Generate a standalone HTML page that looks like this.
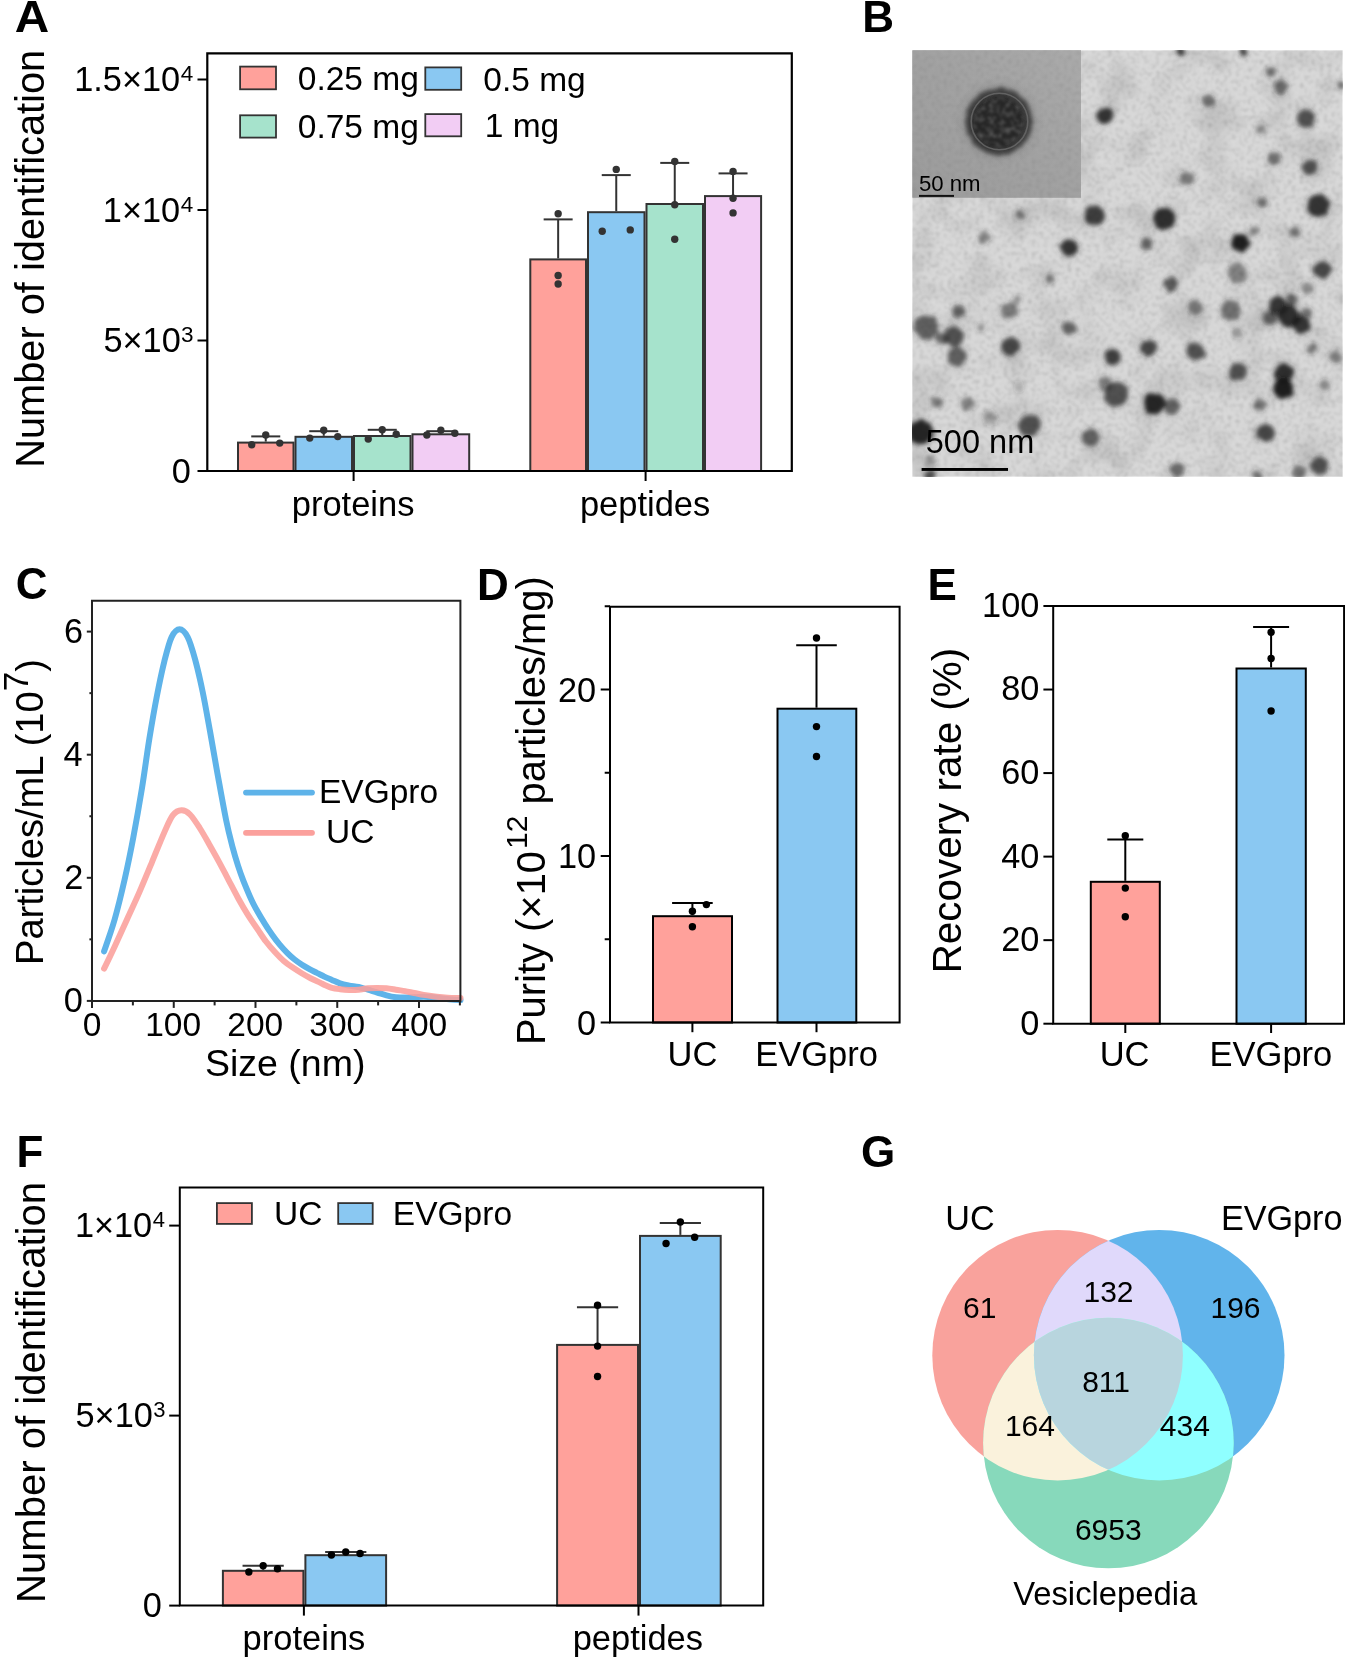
<!DOCTYPE html><html><head><meta charset="utf-8"><style>html,body{margin:0;padding:0;background:#fff;overflow:hidden;}svg{display:block;will-change:transform;}</style></head><body>
<svg width="1345" height="1657" viewBox="0 0 1345 1657" font-family="Liberation Sans, sans-serif" fill="#000">
<defs><filter id="grain" x="0" y="0" width="100%" height="100%"><feTurbulence type="fractalNoise" baseFrequency="0.25" numOctaves="2" seed="3"/><feColorMatrix type="matrix" values="0 0 0 0 0  0 0 0 0 0  0 0 0 0 0  0 0 0 -0.3 0.17"/><feGaussianBlur stdDeviation="0.8"/></filter><filter id="grain2" x="0" y="0" width="100%" height="100%"><feTurbulence type="fractalNoise" baseFrequency="0.03" numOctaves="2" seed="7"/><feColorMatrix type="matrix" values="0 0 0 0 0  0 0 0 0 0  0 0 0 0 0  0 0 0 -0.25 0.14"/></filter><filter id="blobblur" x="-10%" y="-10%" width="120%" height="120%"><feTurbulence type="fractalNoise" baseFrequency="0.12" numOctaves="2" seed="11" result="t"/><feDisplacementMap in="SourceGraphic" in2="t" scale="5" xChannelSelector="R" yChannelSelector="G" result="d"/><feGaussianBlur in="d" stdDeviation="1.9"/></filter><filter id="blobblur3" x="-30%" y="-30%" width="160%" height="160%"><feTurbulence type="fractalNoise" baseFrequency="0.15" numOctaves="2" seed="5" result="t"/><feDisplacementMap in="SourceGraphic" in2="t" scale="4" xChannelSelector="R" yChannelSelector="G" result="d"/><feGaussianBlur in="d" stdDeviation="2.2"/></filter><filter id="blobblur4" x="-20%" y="-20%" width="140%" height="140%"><feGaussianBlur stdDeviation="0.7"/></filter><filter id="coretex" x="-10%" y="-10%" width="120%" height="120%"><feTurbulence type="fractalNoise" baseFrequency="0.18" numOctaves="2" seed="2" result="t"/><feColorMatrix in="t" type="matrix" values="0 0 0 0 0.26  0 0 0 0 0.26  0 0 0 0 0.26  1.1 0 0 0 -0.45" result="c"/><feComposite in="c" in2="SourceGraphic" operator="in" result="m"/><feGaussianBlur in="m" stdDeviation="1"/></filter><linearGradient id="insetgrad" x1="0" y1="1" x2="1" y2="0"><stop offset="0" stop-color="#9c9c9c"/><stop offset="0.5" stop-color="#a2a2a2"/><stop offset="1" stop-color="#ababab"/></linearGradient><radialGradient id="halo"><stop offset="0.55" stop-color="#606060" stop-opacity="0.55"/><stop offset="0.8" stop-color="#808080" stop-opacity="0.2"/><stop offset="1" stop-color="#909090" stop-opacity="0"/></radialGradient><filter id="blobblur2" x="-20%" y="-20%" width="140%" height="140%"><feGaussianBlur stdDeviation="3"/></filter><clipPath id="temclip"><rect x="912.5" y="50.4" width="430" height="426.2"/></clipPath></defs>
<rect width="100%" height="100%" fill="#fff"/>
<g transform="translate(16,0) scale(1.085,1) translate(-16,0)">
<text x="14.90" y="31.90" font-size="44" font-weight="bold" fill="#000">A</text>
</g>
<rect x="238.00" y="442.60" width="55.50" height="28.40" fill="#FFA19B" stroke="#333333" stroke-width="2"/>
<rect x="295.50" y="436.80" width="56.50" height="34.20" fill="#8AC8F2" stroke="#333333" stroke-width="2"/>
<rect x="354.00" y="436.00" width="56.50" height="35.00" fill="#A6E3CC" stroke="#333333" stroke-width="2"/>
<rect x="412.50" y="434.30" width="56.70" height="36.70" fill="#F2CDF4" stroke="#333333" stroke-width="2"/>
<rect x="530.30" y="259.40" width="55.70" height="211.60" fill="#FFA19B" stroke="#333333" stroke-width="2"/>
<rect x="588.00" y="212.20" width="56.50" height="258.80" fill="#8AC8F2" stroke="#333333" stroke-width="2"/>
<rect x="646.50" y="204.00" width="56.50" height="267.00" fill="#A6E3CC" stroke="#333333" stroke-width="2"/>
<rect x="705.00" y="196.10" width="56.10" height="274.90" fill="#F2CDF4" stroke="#333333" stroke-width="2"/>
<line x1="265.75" y1="441.60" x2="265.75" y2="436.40" stroke="#333" stroke-width="2" stroke-linecap="butt"/>
<line x1="251.25" y1="436.40" x2="280.25" y2="436.40" stroke="#333" stroke-width="2" stroke-linecap="butt"/>
<circle cx="251.75" cy="444.80" r="3.7" fill="#333"/>
<circle cx="265.75" cy="435.00" r="3.7" fill="#333"/>
<circle cx="279.75" cy="443.10" r="3.7" fill="#333"/>
<line x1="323.75" y1="435.80" x2="323.75" y2="431.20" stroke="#333" stroke-width="2" stroke-linecap="butt"/>
<line x1="309.25" y1="431.20" x2="338.25" y2="431.20" stroke="#333" stroke-width="2" stroke-linecap="butt"/>
<circle cx="309.75" cy="438.10" r="3.7" fill="#333"/>
<circle cx="323.75" cy="430.20" r="3.7" fill="#333"/>
<circle cx="337.75" cy="436.60" r="3.7" fill="#333"/>
<line x1="382.25" y1="435.00" x2="382.25" y2="429.80" stroke="#333" stroke-width="2" stroke-linecap="butt"/>
<line x1="367.75" y1="429.80" x2="396.75" y2="429.80" stroke="#333" stroke-width="2" stroke-linecap="butt"/>
<circle cx="368.25" cy="439.10" r="3.7" fill="#333"/>
<circle cx="382.25" cy="429.80" r="3.7" fill="#333"/>
<circle cx="396.25" cy="434.30" r="3.7" fill="#333"/>
<line x1="440.85" y1="433.30" x2="440.85" y2="431.20" stroke="#333" stroke-width="2" stroke-linecap="butt"/>
<line x1="426.35" y1="431.20" x2="455.35" y2="431.20" stroke="#333" stroke-width="2" stroke-linecap="butt"/>
<circle cx="426.85" cy="435.00" r="3.7" fill="#333"/>
<circle cx="440.85" cy="430.20" r="3.7" fill="#333"/>
<circle cx="454.85" cy="433.30" r="3.7" fill="#333"/>
<line x1="558.15" y1="258.40" x2="558.15" y2="219.40" stroke="#333" stroke-width="2" stroke-linecap="butt"/>
<line x1="543.65" y1="219.40" x2="572.65" y2="219.40" stroke="#333" stroke-width="2" stroke-linecap="butt"/>
<circle cx="558.15" cy="213.80" r="3.7" fill="#333"/>
<circle cx="558.15" cy="275.50" r="3.7" fill="#333"/>
<circle cx="558.15" cy="284.00" r="3.7" fill="#333"/>
<line x1="616.25" y1="211.20" x2="616.25" y2="175.10" stroke="#333" stroke-width="2" stroke-linecap="butt"/>
<line x1="601.75" y1="175.10" x2="630.75" y2="175.10" stroke="#333" stroke-width="2" stroke-linecap="butt"/>
<circle cx="616.25" cy="169.40" r="3.7" fill="#333"/>
<circle cx="602.25" cy="231.30" r="3.7" fill="#333"/>
<circle cx="630.25" cy="229.90" r="3.7" fill="#333"/>
<line x1="674.75" y1="203.00" x2="674.75" y2="162.90" stroke="#333" stroke-width="2" stroke-linecap="butt"/>
<line x1="660.25" y1="162.90" x2="689.25" y2="162.90" stroke="#333" stroke-width="2" stroke-linecap="butt"/>
<circle cx="674.75" cy="161.50" r="3.7" fill="#333"/>
<circle cx="674.75" cy="204.70" r="3.7" fill="#333"/>
<circle cx="674.75" cy="239.20" r="3.7" fill="#333"/>
<line x1="733.05" y1="195.10" x2="733.05" y2="173.40" stroke="#333" stroke-width="2" stroke-linecap="butt"/>
<line x1="718.55" y1="173.40" x2="747.55" y2="173.40" stroke="#333" stroke-width="2" stroke-linecap="butt"/>
<circle cx="733.05" cy="171.40" r="3.7" fill="#333"/>
<circle cx="733.05" cy="198.20" r="3.7" fill="#333"/>
<circle cx="733.05" cy="212.90" r="3.7" fill="#333"/>
<path d="M207.3,53.3 H791.8 V471 H207.3 Z" fill="none" stroke="#000" stroke-width="2.2"/>
<line x1="197.50" y1="471.00" x2="207.30" y2="471.00" stroke="#000" stroke-width="2" stroke-linecap="butt"/>
<line x1="197.50" y1="340.50" x2="207.30" y2="340.50" stroke="#000" stroke-width="2" stroke-linecap="butt"/>
<line x1="197.50" y1="210.00" x2="207.30" y2="210.00" stroke="#000" stroke-width="2" stroke-linecap="butt"/>
<line x1="197.50" y1="79.50" x2="207.30" y2="79.50" stroke="#000" stroke-width="2" stroke-linecap="butt"/>
<line x1="353.60" y1="471.00" x2="353.60" y2="481.00" stroke="#000" stroke-width="2" stroke-linecap="butt"/>
<line x1="645.60" y1="471.00" x2="645.60" y2="481.00" stroke="#000" stroke-width="2" stroke-linecap="butt"/>
<text x="74.24" y="91.00" font-size="34.3">1.5×10</text>
<text x="180.75" y="81.00" font-size="22.5">4</text>
<text x="102.84" y="221.60" font-size="34.3">1×10</text>
<text x="180.75" y="211.60" font-size="22.5">4</text>
<text x="103.51" y="352.10" font-size="34.3">5×10</text>
<text x="181.08" y="342.10" font-size="22.5">3</text>
<text x="171.76" y="482.60" font-size="34.3" fill="#000">0</text>
<text x="291.74" y="515.90" font-size="34.5" fill="#000">proteins</text>
<text x="579.89" y="515.90" font-size="34.5" fill="#000">peptides</text>
<text transform="translate(43.90,467.86) rotate(-90)" font-size="39.8">Number of identification</text>
<rect x="240.10" y="66.60" width="35.90" height="22.70" fill="#FFA19B" stroke="#333333" stroke-width="1.8"/>
<rect x="240.10" y="115.30" width="35.90" height="22.30" fill="#A6E3CC" stroke="#333333" stroke-width="1.8"/>
<rect x="425.30" y="67.40" width="35.90" height="22.40" fill="#8AC8F2" stroke="#333333" stroke-width="1.8"/>
<rect x="425.30" y="114.10" width="35.90" height="22.20" fill="#F2CDF4" stroke="#333333" stroke-width="1.8"/>
<text x="297.79" y="90.40" font-size="33.5" fill="#000">0.25 mg</text>
<text x="297.79" y="138.30" font-size="33.5" fill="#000">0.75 mg</text>
<text x="483.29" y="90.90" font-size="33.5" fill="#000">0.5 mg</text>
<text x="484.75" y="137.00" font-size="33.5" fill="#000">1 mg</text>
<text x="862.26" y="31.80" font-size="44" font-weight="bold" fill="#000">B</text>
<rect x="912.5" y="50.4" width="430.0" height="426.20000000000005" fill="#d9d9d9"/>
<rect x="912.5" y="50.4" width="430.0" height="426.20000000000005" fill="#000" filter="url(#grain)"/>
<rect x="912.5" y="50.4" width="430.0" height="426.20000000000005" fill="#000" filter="url(#grain2)"/>
<g filter="url(#blobblur)" clip-path="url(#temclip)">
<circle cx="1104.9" cy="115.3" r="9.5" fill="#555" opacity="0.21"/><circle cx="1104.9" cy="115.3" r="8" fill="#141414" opacity="0.81"/>
<circle cx="1094.9" cy="215.6" r="11.5" fill="#555" opacity="0.20"/><circle cx="1094.9" cy="215.6" r="10" fill="#141414" opacity="0.76"/>
<circle cx="1068.9" cy="248.2" r="10.5" fill="#555" opacity="0.21"/><circle cx="1068.9" cy="248.2" r="9" fill="#141414" opacity="0.81"/>
<circle cx="1020.4" cy="214.8" r="6.5" fill="#555" opacity="0.11"/><circle cx="1020.4" cy="214.8" r="5" fill="#141414" opacity="0.43"/>
<circle cx="983.6" cy="237.4" r="7.5" fill="#555" opacity="0.10"/><circle cx="983.6" cy="237.4" r="6" fill="#141414" opacity="0.38"/>
<circle cx="1181" cy="51.7" r="5.5" fill="#555" opacity="0.20"/><circle cx="1181" cy="51.7" r="4" fill="#141414" opacity="0.76"/>
<circle cx="1243.8" cy="51.7" r="5.5" fill="#555" opacity="0.20"/><circle cx="1243.8" cy="51.7" r="4" fill="#141414" opacity="0.76"/>
<circle cx="1270.6" cy="71.8" r="6.5" fill="#555" opacity="0.12"/><circle cx="1270.6" cy="71.8" r="5" fill="#141414" opacity="0.47"/>
<circle cx="1280.6" cy="86.8" r="8.5" fill="#555" opacity="0.14"/><circle cx="1280.6" cy="86.8" r="7" fill="#141414" opacity="0.52"/>
<circle cx="1208.7" cy="101" r="7.5" fill="#555" opacity="0.12"/><circle cx="1208.7" cy="101" r="6" fill="#141414" opacity="0.47"/>
<circle cx="1305.7" cy="118.6" r="10.5" fill="#555" opacity="0.17"/><circle cx="1305.7" cy="118.6" r="9" fill="#141414" opacity="0.66"/>
<circle cx="1260.5" cy="129.5" r="6.5" fill="#555" opacity="0.09"/><circle cx="1260.5" cy="129.5" r="5" fill="#141414" opacity="0.33"/>
<circle cx="1273.9" cy="158.8" r="7.5" fill="#555" opacity="0.12"/><circle cx="1273.9" cy="158.8" r="6" fill="#141414" opacity="0.47"/>
<circle cx="1309.9" cy="167.1" r="9.5" fill="#555" opacity="0.17"/><circle cx="1309.9" cy="167.1" r="8" fill="#141414" opacity="0.66"/>
<circle cx="1186.9" cy="178.8" r="8.5" fill="#555" opacity="0.11"/><circle cx="1186.9" cy="178.8" r="7" fill="#141414" opacity="0.43"/>
<circle cx="1262.2" cy="202.2" r="6.5" fill="#555" opacity="0.14"/><circle cx="1262.2" cy="202.2" r="5" fill="#141414" opacity="0.52"/>
<circle cx="1318.2" cy="205.6" r="12.5" fill="#555" opacity="0.21"/><circle cx="1318.2" cy="205.6" r="11" fill="#141414" opacity="0.81"/>
<circle cx="1164.3" cy="219" r="12.5" fill="#555" opacity="0.23"/><circle cx="1164.3" cy="219" r="11" fill="#141414" opacity="0.85"/>
<circle cx="1146.8" cy="244" r="7.5" fill="#555" opacity="0.15"/><circle cx="1146.8" cy="244" r="6" fill="#141414" opacity="0.57"/>
<circle cx="1240.4" cy="243.2" r="10.5" fill="#555" opacity="0.25"/><circle cx="1240.4" cy="243.2" r="9" fill="#141414" opacity="0.95"/>
<circle cx="1253.8" cy="230.7" r="6.5" fill="#555" opacity="0.10"/><circle cx="1253.8" cy="230.7" r="5" fill="#141414" opacity="0.38"/>
<circle cx="1294.8" cy="232.4" r="6.5" fill="#555" opacity="0.12"/><circle cx="1294.8" cy="232.4" r="5" fill="#141414" opacity="0.47"/>
<circle cx="926.7" cy="326.9" r="13.5" fill="#555" opacity="0.15"/><circle cx="926.7" cy="326.9" r="12" fill="#141414" opacity="0.59"/>
<circle cx="953.5" cy="337" r="11.5" fill="#555" opacity="0.17"/><circle cx="953.5" cy="337" r="10" fill="#141414" opacity="0.65"/>
<circle cx="941" cy="338.6" r="7.5" fill="#555" opacity="0.14"/><circle cx="941" cy="338.6" r="6" fill="#141414" opacity="0.52"/>
<circle cx="956.9" cy="357" r="11.5" fill="#555" opacity="0.15"/><circle cx="956.9" cy="357" r="10" fill="#141414" opacity="0.59"/>
<circle cx="959.4" cy="311.9" r="7.5" fill="#555" opacity="0.15"/><circle cx="959.4" cy="311.9" r="6" fill="#141414" opacity="0.57"/>
<circle cx="1009.5" cy="311" r="9.5" fill="#555" opacity="0.11"/><circle cx="1009.5" cy="311" r="8" fill="#141414" opacity="0.43"/>
<circle cx="981.1" cy="326.9" r="5.5" fill="#555" opacity="0.07"/><circle cx="981.1" cy="326.9" r="4" fill="#141414" opacity="0.28"/>
<circle cx="1010.4" cy="346.1" r="10.5" fill="#555" opacity="0.19"/><circle cx="1010.4" cy="346.1" r="9" fill="#141414" opacity="0.71"/>
<circle cx="1068.9" cy="328.6" r="8.5" fill="#555" opacity="0.15"/><circle cx="1068.9" cy="328.6" r="7" fill="#141414" opacity="0.57"/>
<circle cx="1049.7" cy="279.2" r="6.5" fill="#555" opacity="0.11"/><circle cx="1049.7" cy="279.2" r="5" fill="#141414" opacity="0.43"/>
<circle cx="1112.4" cy="357" r="9.5" fill="#555" opacity="0.20"/><circle cx="1112.4" cy="357" r="8" fill="#141414" opacity="0.76"/>
<circle cx="1115.8" cy="393.8" r="13.5" fill="#555" opacity="0.17"/><circle cx="1115.8" cy="393.8" r="12" fill="#141414" opacity="0.66"/>
<circle cx="1105.7" cy="383.8" r="8.5" fill="#555" opacity="0.10"/><circle cx="1105.7" cy="383.8" r="7" fill="#141414" opacity="0.38"/>
<circle cx="936.8" cy="402.2" r="7.5" fill="#555" opacity="0.11"/><circle cx="936.8" cy="402.2" r="6" fill="#141414" opacity="0.43"/>
<circle cx="967.7" cy="403.9" r="8.5" fill="#555" opacity="0.10"/><circle cx="967.7" cy="403.9" r="7" fill="#141414" opacity="0.38"/>
<circle cx="990.3" cy="415.6" r="7.5" fill="#555" opacity="0.05"/><circle cx="990.3" cy="415.6" r="6" fill="#141414" opacity="0.19"/>
<circle cx="1029.6" cy="425.6" r="12.5" fill="#555" opacity="0.17"/><circle cx="1029.6" cy="425.6" r="11" fill="#141414" opacity="0.66"/>
<circle cx="1090.7" cy="437.3" r="10.5" fill="#555" opacity="0.15"/><circle cx="1090.7" cy="437.3" r="9" fill="#141414" opacity="0.57"/>
<circle cx="920.9" cy="432.3" r="13.5" fill="#555" opacity="0.24"/><circle cx="920.9" cy="432.3" r="12" fill="#141414" opacity="0.90"/>
<circle cx="1018.7" cy="387.1" r="6.5" fill="#555" opacity="0.05"/><circle cx="1018.7" cy="387.1" r="5" fill="#141414" opacity="0.19"/>
<circle cx="930" cy="460.7" r="7.5" fill="#555" opacity="0.07"/><circle cx="930" cy="460.7" r="6" fill="#141414" opacity="0.28"/>
<circle cx="930" cy="475.8" r="7.5" fill="#555" opacity="0.17"/><circle cx="930" cy="475.8" r="6" fill="#141414" opacity="0.66"/>
<circle cx="1322.4" cy="269.2" r="10.5" fill="#555" opacity="0.19"/><circle cx="1322.4" cy="269.2" r="9" fill="#141414" opacity="0.71"/>
<circle cx="1237.1" cy="273.4" r="11.5" fill="#555" opacity="0.10"/><circle cx="1237.1" cy="273.4" r="10" fill="#141414" opacity="0.38"/>
<circle cx="1171" cy="284.3" r="8.5" fill="#555" opacity="0.16"/><circle cx="1171" cy="284.3" r="7" fill="#141414" opacity="0.62"/>
<circle cx="1307.4" cy="288.4" r="7.5" fill="#555" opacity="0.09"/><circle cx="1307.4" cy="288.4" r="6" fill="#141414" opacity="0.33"/>
<circle cx="1195.3" cy="307.7" r="8.5" fill="#555" opacity="0.11"/><circle cx="1195.3" cy="307.7" r="7" fill="#141414" opacity="0.43"/>
<circle cx="1230.4" cy="310.2" r="11.5" fill="#555" opacity="0.12"/><circle cx="1230.4" cy="310.2" r="10" fill="#141414" opacity="0.47"/>
<circle cx="1278" cy="306" r="10.5" fill="#555" opacity="0.21"/><circle cx="1278" cy="306" r="9" fill="#141414" opacity="0.81"/>
<circle cx="1289" cy="316" r="12.5" fill="#555" opacity="0.23"/><circle cx="1289" cy="316" r="11" fill="#141414" opacity="0.85"/>
<circle cx="1301" cy="325" r="10.5" fill="#555" opacity="0.21"/><circle cx="1301" cy="325" r="9" fill="#141414" opacity="0.81"/>
<circle cx="1270" cy="318" r="8.5" fill="#555" opacity="0.15"/><circle cx="1270" cy="318" r="7" fill="#141414" opacity="0.57"/>
<circle cx="1292" cy="300" r="7.5" fill="#555" opacity="0.15"/><circle cx="1292" cy="300" r="6" fill="#141414" opacity="0.57"/>
<circle cx="1306" cy="314" r="7.5" fill="#555" opacity="0.12"/><circle cx="1306" cy="314" r="6" fill="#141414" opacity="0.47"/>
<circle cx="1237.1" cy="332.8" r="6.5" fill="#555" opacity="0.07"/><circle cx="1237.1" cy="332.8" r="5" fill="#141414" opacity="0.28"/>
<circle cx="1148.4" cy="347.8" r="9.5" fill="#555" opacity="0.19"/><circle cx="1148.4" cy="347.8" r="8" fill="#141414" opacity="0.71"/>
<circle cx="1195.3" cy="351.2" r="10.5" fill="#555" opacity="0.17"/><circle cx="1195.3" cy="351.2" r="9" fill="#141414" opacity="0.66"/>
<circle cx="1311.5" cy="348.7" r="6.5" fill="#555" opacity="0.11"/><circle cx="1311.5" cy="348.7" r="5" fill="#141414" opacity="0.43"/>
<circle cx="1335.8" cy="357" r="7.5" fill="#555" opacity="0.10"/><circle cx="1335.8" cy="357" r="6" fill="#141414" opacity="0.38"/>
<circle cx="1237.9" cy="372.1" r="10.5" fill="#555" opacity="0.17"/><circle cx="1237.9" cy="372.1" r="9" fill="#141414" opacity="0.66"/>
<circle cx="1283.9" cy="373.8" r="11.5" fill="#555" opacity="0.23"/><circle cx="1283.9" cy="373.8" r="10" fill="#141414" opacity="0.85"/>
<circle cx="1283.1" cy="388.8" r="11.5" fill="#555" opacity="0.25"/><circle cx="1283.1" cy="388.8" r="10" fill="#141414" opacity="0.95"/>
<circle cx="1324.1" cy="385.5" r="6.5" fill="#555" opacity="0.09"/><circle cx="1324.1" cy="385.5" r="5" fill="#141414" opacity="0.33"/>
<circle cx="1154.3" cy="403.9" r="12.5" fill="#555" opacity="0.24"/><circle cx="1154.3" cy="403.9" r="11" fill="#141414" opacity="0.90"/>
<circle cx="1172.7" cy="406.4" r="9.5" fill="#555" opacity="0.15"/><circle cx="1172.7" cy="406.4" r="8" fill="#141414" opacity="0.57"/>
<circle cx="1259.7" cy="404.7" r="7.5" fill="#555" opacity="0.12"/><circle cx="1259.7" cy="404.7" r="6" fill="#141414" opacity="0.47"/>
<circle cx="1265.5" cy="433.1" r="10.5" fill="#555" opacity="0.19"/><circle cx="1265.5" cy="433.1" r="9" fill="#141414" opacity="0.71"/>
<circle cx="1177.7" cy="469.9" r="8.5" fill="#555" opacity="0.14"/><circle cx="1177.7" cy="469.9" r="7" fill="#141414" opacity="0.52"/>
<circle cx="1319.1" cy="465.8" r="10.5" fill="#555" opacity="0.17"/><circle cx="1319.1" cy="465.8" r="9" fill="#141414" opacity="0.66"/>
<circle cx="1299" cy="472.4" r="8.5" fill="#555" opacity="0.12"/><circle cx="1299" cy="472.4" r="7" fill="#141414" opacity="0.47"/>
<circle cx="1257.2" cy="475" r="6.5" fill="#555" opacity="0.12"/><circle cx="1257.2" cy="475" r="5" fill="#141414" opacity="0.47"/>
<circle cx="1340.8" cy="85.1" r="5.5" fill="#555" opacity="0.12"/><circle cx="1340.8" cy="85.1" r="4" fill="#141414" opacity="0.47"/>
<circle cx="1017" cy="300" r="6.5" fill="#555" opacity="0.07"/><circle cx="1017" cy="300" r="5" fill="#141414" opacity="0.28"/>
<circle cx="990" cy="419" r="9.5" fill="#555" opacity="0.04"/><circle cx="990" cy="419" r="8" fill="#141414" opacity="0.14"/>
</g>
<rect x="912.5" y="50.4" width="168.5" height="147.2" fill="#a7a7a7"/>
<rect x="912.5" y="50.4" width="168.5" height="147.2" fill="url(#insetgrad)"/>
<rect x="912.5" y="50.4" width="168.5" height="147.2" fill="#000" filter="url(#grain)" opacity="0.6"/>
<circle cx="999" cy="121.5" r="46" fill="url(#halo)"/>
<g filter="url(#blobblur3)"><circle cx="999" cy="121.5" r="33.5" fill="#404040"/><circle cx="998" cy="122.5" r="26.5" fill="#262626"/></g>
<circle cx="998.5" cy="122" r="25" fill="#000" filter="url(#coretex)"/>
<circle cx="999.5" cy="121.5" r="28.3" fill="none" stroke="#6e6e6e" stroke-width="1.6" opacity="0.75" filter="url(#blobblur4)"/>
<text x="918.91" y="190.80" font-size="22.2" fill="#000">50 nm</text>
<rect x="919" y="194.9" width="35" height="2" fill="#111"/>
<text x="925.80" y="452.90" font-size="32.5" fill="#000">500 nm</text>
<rect x="921.6" y="468" width="86.4" height="2.9" fill="#000"/>
<text x="15.70" y="599.30" font-size="44" font-weight="bold" fill="#000">C</text>
<path d="M104.1,951.3 C105.9,945.9 111.3,931.2 114.7,919.2 C118.1,907.2 121.5,893.2 124.6,879.6 C127.7,866.0 130.4,852.8 133.3,837.5 C136.2,822.2 139.3,804.5 142.0,788.0 C144.7,771.5 146.9,753.8 149.4,738.5 C151.9,723.2 154.3,709.3 156.8,696.5 C159.3,683.7 161.7,671.8 164.2,661.9 C166.7,652.0 169.0,642.5 171.6,637.1 C174.2,631.7 176.9,629.2 179.6,629.2 C182.3,629.2 185.1,632.1 187.7,637.1 C190.3,642.1 192.6,650.3 195.1,659.4 C197.6,668.5 200.1,679.5 202.6,691.5 C205.1,703.5 207.5,717.5 210.0,731.1 C212.5,744.7 214.7,758.4 217.4,773.2 C220.1,788.0 223.6,807.7 226.1,820.0 C228.6,832.3 230.6,839.6 232.6,847.2 C234.6,854.8 236.2,860.0 238.0,865.6 C239.8,871.2 241.2,875.1 243.4,880.8 C245.7,886.5 249.2,894.9 251.5,900.0 C253.8,905.1 255.2,907.2 257.4,911.2 C259.6,915.2 262.4,919.8 264.9,923.8 C267.4,927.8 269.8,931.4 272.3,934.9 C274.8,938.4 277.2,941.6 279.7,944.6 C282.2,947.6 284.7,950.3 287.2,952.8 C289.7,955.3 292.1,957.5 294.6,959.5 C297.1,961.5 299.5,963.1 302.0,964.7 C304.5,966.3 307.0,967.7 309.5,969.1 C312.0,970.5 314.4,971.6 316.9,972.9 C319.4,974.1 321.8,975.4 324.3,976.6 C326.8,977.8 329.2,978.8 331.8,979.9 C334.4,981.0 337.1,982.4 340.0,983.4 C342.9,984.4 346.2,985.0 349.3,985.6 C352.4,986.2 355.5,986.3 358.6,987.0 C361.7,987.7 364.8,988.8 367.9,989.7 C371.0,990.6 374.1,991.6 377.2,992.5 C380.3,993.4 383.4,994.5 386.5,995.3 C389.6,996.1 392.7,996.8 395.8,997.2 C398.9,997.6 402.0,997.6 405.1,997.6 C408.2,997.6 411.2,997.4 414.3,997.2 C417.4,997.1 420.5,996.7 423.6,996.7 C426.7,996.7 429.8,996.9 432.9,997.2 C436.0,997.5 439.1,998.2 442.2,998.6 C445.3,999.0 448.4,999.3 451.5,999.5 C454.6,999.7 459.0,999.9 460.5,1000.0" fill="none" stroke="#5EB3E9" stroke-width="6" stroke-linecap="round" stroke-linejoin="round"/>
<path d="M104.1,968.6 C105.9,964.9 110.9,954.6 114.7,946.4 C118.5,938.2 123.0,928.3 127.1,919.2 C131.2,910.1 135.4,901.4 139.5,891.9 C143.6,882.4 147.8,872.2 151.9,862.3 C156.0,852.4 160.7,840.5 164.2,832.6 C167.7,824.8 170.0,818.9 172.9,815.2 C175.8,811.5 178.7,810.4 181.5,810.3 C184.3,810.2 187.0,811.5 190.0,814.5 C193.0,817.5 196.5,823.0 199.7,828.0 C202.9,833.0 206.1,838.8 209.3,844.4 C212.5,850.0 215.8,855.8 219.0,861.8 C222.2,867.8 225.4,874.0 228.6,880.1 C231.8,886.2 235.1,892.7 238.3,898.5 C241.5,904.3 244.7,909.8 247.9,914.9 C251.1,920.0 254.6,924.9 257.6,929.3 C260.6,933.7 263.1,937.7 266.0,941.5 C268.9,945.3 271.9,948.8 274.9,952.0 C277.9,955.2 280.8,958.4 283.8,961.0 C286.8,963.6 289.8,965.6 292.8,967.6 C295.8,969.6 298.7,971.5 301.7,973.3 C304.7,975.1 307.6,976.7 310.6,978.2 C313.6,979.7 316.9,981.2 319.5,982.4 C322.1,983.6 323.9,984.7 326.0,985.6 C328.1,986.5 329.5,987.2 331.8,987.8 C334.1,988.4 337.1,988.8 340.0,989.2 C342.9,989.6 346.2,989.9 349.3,990.0 C352.4,990.1 355.5,990.0 358.6,989.7 C361.7,989.4 364.8,988.6 367.9,988.3 C371.0,988.0 374.1,987.9 377.2,987.9 C380.3,987.9 383.4,988.0 386.5,988.3 C389.6,988.6 392.7,989.2 395.8,989.7 C398.9,990.2 402.0,990.6 405.1,991.1 C408.2,991.6 411.2,992.4 414.3,993.0 C417.4,993.6 420.5,994.4 423.6,994.9 C426.7,995.4 429.8,995.8 432.9,996.2 C436.0,996.6 439.1,996.9 442.2,997.2 C445.3,997.5 448.4,997.8 451.5,997.9 C454.6,998.0 459.0,998.1 460.5,998.1" fill="none" stroke="#FA9F9B" stroke-width="6" stroke-linecap="round" stroke-linejoin="round" opacity="0.88"/>
<path d="M92,600.7 H460.4 V1000.9 H92 Z" fill="none" stroke="#222" stroke-width="2"/>
<line x1="86.80" y1="1000.90" x2="92.00" y2="1000.90" stroke="#222" stroke-width="2" stroke-linecap="butt"/>
<line x1="89.40" y1="939.35" x2="92.00" y2="939.35" stroke="#222" stroke-width="2" stroke-linecap="butt"/>
<line x1="86.80" y1="877.80" x2="92.00" y2="877.80" stroke="#222" stroke-width="2" stroke-linecap="butt"/>
<line x1="89.40" y1="816.25" x2="92.00" y2="816.25" stroke="#222" stroke-width="2" stroke-linecap="butt"/>
<line x1="86.80" y1="754.70" x2="92.00" y2="754.70" stroke="#222" stroke-width="2" stroke-linecap="butt"/>
<line x1="89.40" y1="693.15" x2="92.00" y2="693.15" stroke="#222" stroke-width="2" stroke-linecap="butt"/>
<line x1="86.80" y1="631.60" x2="92.00" y2="631.60" stroke="#222" stroke-width="2" stroke-linecap="butt"/>
<line x1="92.00" y1="1000.90" x2="92.00" y2="1007.90" stroke="#222" stroke-width="2" stroke-linecap="butt"/>
<line x1="132.88" y1="1000.90" x2="132.88" y2="1005.40" stroke="#222" stroke-width="2" stroke-linecap="butt"/>
<line x1="173.75" y1="1000.90" x2="173.75" y2="1007.90" stroke="#222" stroke-width="2" stroke-linecap="butt"/>
<line x1="214.62" y1="1000.90" x2="214.62" y2="1005.40" stroke="#222" stroke-width="2" stroke-linecap="butt"/>
<line x1="255.50" y1="1000.90" x2="255.50" y2="1007.90" stroke="#222" stroke-width="2" stroke-linecap="butt"/>
<line x1="296.38" y1="1000.90" x2="296.38" y2="1005.40" stroke="#222" stroke-width="2" stroke-linecap="butt"/>
<line x1="337.25" y1="1000.90" x2="337.25" y2="1007.90" stroke="#222" stroke-width="2" stroke-linecap="butt"/>
<line x1="378.12" y1="1000.90" x2="378.12" y2="1005.40" stroke="#222" stroke-width="2" stroke-linecap="butt"/>
<line x1="419.00" y1="1000.90" x2="419.00" y2="1007.90" stroke="#222" stroke-width="2" stroke-linecap="butt"/>
<line x1="459.88" y1="1000.90" x2="459.88" y2="1005.40" stroke="#222" stroke-width="2" stroke-linecap="butt"/>
<text x="63.86" y="1012.30" font-size="34.3" fill="#000">0</text>
<text x="64.25" y="889.20" font-size="34.3" fill="#000">2</text>
<text x="63.53" y="766.10" font-size="34.3" fill="#000">4</text>
<text x="64.03" y="643.00" font-size="34.3" fill="#000">6</text>
<text x="82.68" y="1036.00" font-size="33.5" fill="#000">0</text>
<text x="145.18" y="1036.00" font-size="33.5" fill="#000">100</text>
<text x="227.37" y="1036.00" font-size="33.5" fill="#000">200</text>
<text x="309.32" y="1036.00" font-size="33.5" fill="#000">300</text>
<text x="391.32" y="1036.00" font-size="33.5" fill="#000">400</text>
<text x="204.94" y="1076.00" font-size="37.5" fill="#000">Size (nm)</text>
<text id="ctitle" transform="translate(43.1,965) rotate(-90)" font-size="38.1">Particles/mL (10<tspan dy="-15.5" font-size="35">7</tspan><tspan dy="15.5">)</tspan></text>
<line x1="246.00" y1="792.60" x2="312.00" y2="792.60" stroke="#5EB3E9" stroke-width="5.8" stroke-linecap="round"/>
<text x="318.95" y="803.10" font-size="33.5" fill="#000">EVGpro</text>
<line x1="246.00" y1="832.80" x2="312.00" y2="832.80" stroke="#FBA09C" stroke-width="5.8" stroke-linecap="round"/>
<text x="326.12" y="842.60" font-size="33.5" fill="#000">UC</text>
<text x="477.06" y="599.80" font-size="44" font-weight="bold" fill="#000">D</text>
<rect x="653.00" y="916.20" width="79.00" height="106.30" fill="#FFA19B" stroke="#000" stroke-width="2"/>
<rect x="777.50" y="708.70" width="78.80" height="313.80" fill="#8AC8F2" stroke="#000" stroke-width="2"/>
<line x1="692.40" y1="915.20" x2="692.40" y2="902.90" stroke="#000" stroke-width="2" stroke-linecap="butt"/>
<line x1="672.10" y1="902.90" x2="712.70" y2="902.90" stroke="#000" stroke-width="2" stroke-linecap="butt"/>
<line x1="816.50" y1="707.70" x2="816.50" y2="645.30" stroke="#000" stroke-width="2" stroke-linecap="butt"/>
<line x1="796.20" y1="645.30" x2="836.80" y2="645.30" stroke="#000" stroke-width="2" stroke-linecap="butt"/>
<circle cx="706.40" cy="904.60" r="3.7" fill="#000"/>
<circle cx="692.40" cy="911.20" r="3.7" fill="#000"/>
<circle cx="692.40" cy="926.80" r="3.7" fill="#000"/>
<circle cx="816.50" cy="638.00" r="3.7" fill="#000"/>
<circle cx="816.50" cy="726.60" r="3.7" fill="#000"/>
<circle cx="816.50" cy="756.50" r="3.7" fill="#000"/>
<path d="M610,606.7 H899.6 V1022.5 H610 Z" fill="none" stroke="#000" stroke-width="2"/>
<line x1="600.70" y1="1022.50" x2="610.00" y2="1022.50" stroke="#000" stroke-width="2" stroke-linecap="butt"/>
<line x1="604.70" y1="939.25" x2="610.00" y2="939.25" stroke="#000" stroke-width="2" stroke-linecap="butt"/>
<line x1="600.70" y1="856.00" x2="610.00" y2="856.00" stroke="#000" stroke-width="2" stroke-linecap="butt"/>
<line x1="604.70" y1="772.75" x2="610.00" y2="772.75" stroke="#000" stroke-width="2" stroke-linecap="butt"/>
<line x1="600.70" y1="689.50" x2="610.00" y2="689.50" stroke="#000" stroke-width="2" stroke-linecap="butt"/>
<line x1="604.70" y1="606.25" x2="610.00" y2="606.25" stroke="#000" stroke-width="2" stroke-linecap="butt"/>
<text x="577.06" y="1034.50" font-size="34.3" fill="#000">0</text>
<text x="557.99" y="868.00" font-size="34.3" fill="#000">10</text>
<text x="557.99" y="701.50" font-size="34.3" fill="#000">20</text>
<line x1="692.40" y1="1022.50" x2="692.40" y2="1032.20" stroke="#000" stroke-width="2" stroke-linecap="butt"/>
<line x1="816.50" y1="1022.50" x2="816.50" y2="1032.20" stroke="#000" stroke-width="2" stroke-linecap="butt"/>
<text x="667.61" y="1066.10" font-size="34.5" fill="#000">UC</text>
<text x="755.20" y="1066.10" font-size="34.5" fill="#000">EVGpro</text>
<text id="dtitle" transform="translate(544.8,1045) rotate(-90)" font-size="39.9">Purity (×10<tspan font-size="30" dy="-17.8" dx="2">12</tspan><tspan dy="17.8"> particles/mg)</tspan></text>
<text x="927.56" y="599.80" font-size="44" font-weight="bold" fill="#000">E</text>
<rect x="1090.80" y="881.80" width="69.00" height="141.90" fill="#FFA19B" stroke="#000" stroke-width="2"/>
<rect x="1236.50" y="668.50" width="69.30" height="355.20" fill="#8AC8F2" stroke="#000" stroke-width="2"/>
<line x1="1125.30" y1="880.80" x2="1125.30" y2="839.40" stroke="#000" stroke-width="2" stroke-linecap="butt"/>
<line x1="1107.30" y1="839.40" x2="1143.30" y2="839.40" stroke="#000" stroke-width="2" stroke-linecap="butt"/>
<line x1="1271.10" y1="667.50" x2="1271.10" y2="627.00" stroke="#000" stroke-width="2" stroke-linecap="butt"/>
<line x1="1253.10" y1="627.00" x2="1289.10" y2="627.00" stroke="#000" stroke-width="2" stroke-linecap="butt"/>
<circle cx="1125.30" cy="835.70" r="3.7" fill="#000"/>
<circle cx="1125.30" cy="888.10" r="3.7" fill="#000"/>
<circle cx="1125.30" cy="916.70" r="3.7" fill="#000"/>
<circle cx="1271.10" cy="632.30" r="3.7" fill="#000"/>
<circle cx="1271.10" cy="658.50" r="3.7" fill="#000"/>
<circle cx="1271.10" cy="711.00" r="3.7" fill="#000"/>
<path d="M1053.2,606 H1344.1 V1023.7 H1053.2 Z" fill="none" stroke="#000" stroke-width="2"/>
<line x1="1043.40" y1="1023.70" x2="1053.20" y2="1023.70" stroke="#000" stroke-width="2" stroke-linecap="butt"/>
<text x="1020.26" y="1034.60" font-size="34.3" fill="#000">0</text>
<line x1="1043.40" y1="940.16" x2="1053.20" y2="940.16" stroke="#000" stroke-width="2" stroke-linecap="butt"/>
<text x="1001.19" y="951.06" font-size="34.3" fill="#000">20</text>
<line x1="1043.40" y1="856.62" x2="1053.20" y2="856.62" stroke="#000" stroke-width="2" stroke-linecap="butt"/>
<text x="1001.19" y="867.52" font-size="34.3" fill="#000">40</text>
<line x1="1043.40" y1="773.08" x2="1053.20" y2="773.08" stroke="#000" stroke-width="2" stroke-linecap="butt"/>
<text x="1001.19" y="783.98" font-size="34.3" fill="#000">60</text>
<line x1="1043.40" y1="689.54" x2="1053.20" y2="689.54" stroke="#000" stroke-width="2" stroke-linecap="butt"/>
<text x="1001.19" y="700.44" font-size="34.3" fill="#000">80</text>
<line x1="1043.40" y1="606.00" x2="1053.20" y2="606.00" stroke="#000" stroke-width="2" stroke-linecap="butt"/>
<text x="982.11" y="616.90" font-size="34.3" fill="#000">100</text>
<line x1="1125.30" y1="1023.70" x2="1125.30" y2="1033.00" stroke="#000" stroke-width="2" stroke-linecap="butt"/>
<line x1="1271.10" y1="1023.70" x2="1271.10" y2="1033.00" stroke="#000" stroke-width="2" stroke-linecap="butt"/>
<text x="1099.71" y="1066.00" font-size="34.5" fill="#000">UC</text>
<text x="1209.55" y="1066.00" font-size="34.5" fill="#000">EVGpro</text>
<text transform="translate(960.90,973.31) rotate(-90)" font-size="40.4">Recovery rate (%)</text>
<text x="16.46" y="1167.00" font-size="44" font-weight="bold" fill="#000">F</text>
<rect x="222.90" y="1570.80" width="80.50" height="34.80" fill="#FFA19B" stroke="#333333" stroke-width="2"/>
<rect x="305.40" y="1555.20" width="80.70" height="50.40" fill="#8AC8F2" stroke="#333333" stroke-width="2"/>
<rect x="557.10" y="1344.90" width="80.90" height="260.70" fill="#FFA19B" stroke="#333333" stroke-width="2"/>
<rect x="640.00" y="1235.90" width="80.70" height="369.70" fill="#8AC8F2" stroke="#333333" stroke-width="2"/>
<line x1="263.15" y1="1569.80" x2="263.15" y2="1565.70" stroke="#333" stroke-width="2" stroke-linecap="butt"/>
<line x1="242.55" y1="1565.70" x2="283.75" y2="1565.70" stroke="#333" stroke-width="2" stroke-linecap="butt"/>
<circle cx="248.85" cy="1572.00" r="3.7" fill="#000"/>
<circle cx="263.15" cy="1565.80" r="3.7" fill="#000"/>
<circle cx="277.45" cy="1568.80" r="3.7" fill="#000"/>
<line x1="345.75" y1="1554.20" x2="345.75" y2="1552.00" stroke="#333" stroke-width="2" stroke-linecap="butt"/>
<line x1="325.15" y1="1552.00" x2="366.35" y2="1552.00" stroke="#333" stroke-width="2" stroke-linecap="butt"/>
<circle cx="331.45" cy="1555.00" r="3.7" fill="#000"/>
<circle cx="345.75" cy="1552.00" r="3.7" fill="#000"/>
<circle cx="360.05" cy="1553.50" r="3.7" fill="#000"/>
<line x1="597.55" y1="1343.90" x2="597.55" y2="1307.20" stroke="#333" stroke-width="2" stroke-linecap="butt"/>
<line x1="576.95" y1="1307.20" x2="618.15" y2="1307.20" stroke="#333" stroke-width="2" stroke-linecap="butt"/>
<circle cx="597.55" cy="1305.20" r="3.7" fill="#000"/>
<circle cx="597.55" cy="1346.10" r="3.7" fill="#000"/>
<circle cx="597.55" cy="1376.50" r="3.7" fill="#000"/>
<line x1="680.35" y1="1234.90" x2="680.35" y2="1223.00" stroke="#333" stroke-width="2" stroke-linecap="butt"/>
<line x1="659.75" y1="1223.00" x2="700.95" y2="1223.00" stroke="#333" stroke-width="2" stroke-linecap="butt"/>
<circle cx="680.35" cy="1222.00" r="3.7" fill="#000"/>
<circle cx="666.05" cy="1243.50" r="3.7" fill="#000"/>
<circle cx="694.65" cy="1237.30" r="3.7" fill="#000"/>
<path d="M179.8,1187.4 H763.2 V1605.6 H179.8 Z" fill="none" stroke="#000" stroke-width="2"/>
<line x1="169.20" y1="1605.60" x2="179.80" y2="1605.60" stroke="#000" stroke-width="2" stroke-linecap="butt"/>
<line x1="169.20" y1="1415.60" x2="179.80" y2="1415.60" stroke="#000" stroke-width="2" stroke-linecap="butt"/>
<line x1="169.20" y1="1225.60" x2="179.80" y2="1225.60" stroke="#000" stroke-width="2" stroke-linecap="butt"/>
<text x="74.90" y="1236.70" font-size="34.3">1×10</text>
<text x="152.81" y="1226.90" font-size="22">4</text>
<text x="75.55" y="1426.60" font-size="34.3">5×10</text>
<text x="153.13" y="1416.80" font-size="22">3</text>
<text x="142.76" y="1616.60" font-size="34.3" fill="#000">0</text>
<line x1="303.90" y1="1605.60" x2="303.90" y2="1615.60" stroke="#000" stroke-width="2" stroke-linecap="butt"/>
<line x1="638.50" y1="1605.60" x2="638.50" y2="1615.60" stroke="#000" stroke-width="2" stroke-linecap="butt"/>
<text x="242.59" y="1649.60" font-size="34.5" fill="#000">proteins</text>
<text x="572.64" y="1649.60" font-size="34.5" fill="#000">peptides</text>
<text transform="translate(45.40,1602.99) rotate(-90)" font-size="40.1">Number of identification</text>
<rect x="216.90" y="1203.10" width="35.00" height="20.80" fill="#FFA19B" stroke="#333333" stroke-width="1.8"/>
<text x="274.02" y="1224.80" font-size="33.5" fill="#000">UC</text>
<rect x="338.20" y="1203.10" width="34.50" height="20.80" fill="#8AC8F2" stroke="#333333" stroke-width="1.8"/>
<text x="392.85" y="1224.80" font-size="33.5" fill="#000">EVGpro</text>
<text x="861.10" y="1166.60" font-size="44" font-weight="bold" fill="#000">G</text>
<defs><clipPath id="cUC"><circle cx="1057.6" cy="1355.2" r="125.3"/></clipPath><clipPath id="cEV"><circle cx="1159.2" cy="1355.2" r="125.3"/></clipPath></defs>
<circle cx="1057.6" cy="1355.2" r="125.3" fill="#F9A29C"/>
<circle cx="1159.2" cy="1355.2" r="125.3" fill="#61B4EB"/>
<circle cx="1108.4" cy="1443" r="125.3" fill="#87D9BB"/>
<g clip-path="url(#cUC)"><circle cx="1159.2" cy="1355.2" r="125.3" fill="#E0D9FB"/><circle cx="1108.4" cy="1443" r="125.3" fill="#FAF2DC"/></g>
<g clip-path="url(#cEV)"><circle cx="1108.4" cy="1443" r="125.3" fill="#8FFFFF"/></g>
<g clip-path="url(#cUC)"><g clip-path="url(#cEV)"><circle cx="1108.4" cy="1443" r="125.3" fill="#B8D5DE"/></g></g>
<text x="963.04" y="1318.10" font-size="30" fill="#000">61</text>
<text x="1210.49" y="1318.10" font-size="30" fill="#000">196</text>
<text x="1083.48" y="1302.30" font-size="30" fill="#000">132</text>
<text x="1082.15" y="1391.60" font-size="30" fill="#000">811</text>
<text x="1004.92" y="1436.00" font-size="30" fill="#000">164</text>
<text x="1159.82" y="1436.00" font-size="30" fill="#000">434</text>
<text x="1074.93" y="1539.50" font-size="30" fill="#000">6953</text>
<text x="945.26" y="1229.50" font-size="34.2" fill="#000">UC</text>
<text x="1220.89" y="1229.50" font-size="34.2" fill="#000">EVGpro</text>
<text x="1013.16" y="1604.50" font-size="32.8" fill="#000">Vesiclepedia</text>
</svg></body></html>
